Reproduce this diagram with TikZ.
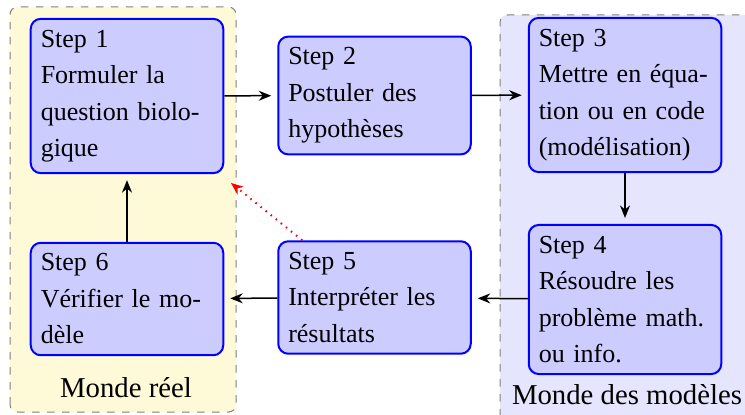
\documentclass[tikz,border=0pt]{standalone}
\usepackage{fontspec}
\setmainfont{Liberation Serif}
\usetikzlibrary{arrows.meta}

\begin{document}
\begin{tikzpicture}[x=0.4pt,y=0.4pt,
    stepnode/.style={draw=blue, line width=0.8pt, fill=stepcolor, rounded corners=4pt,
      text width=69pt, align=left, inner xsep=4pt, inner ysep=4.4pt,
      font=\fontsize{10.4}{14.6}\selectfont},
    flow/.style={-{Stealth[length=5pt,width=4pt]}, semithick, shorten >=2.4pt},
    worldlabel/.style={font=\fontsize{11.5}{14}\selectfont}]
    % Define colors
    \definecolor{realcolor}{RGB}{254,249,215}   % light yellow
    \definecolor{modelcolor}{RGB}{229,229,253}  % light lavender
    \definecolor{stepcolor}{RGB}{204,204,255}   % node fill

    \useasboundingbox (0,0) rectangle (745,414);

    % Draw background
    \filldraw[fill=realcolor, draw=gray, dashed, rounded corners=3pt] (10,2) rectangle (236,407);
    \filldraw[fill=modelcolor, draw=gray, dashed, rounded corners=3pt] (500,-10) rectangle (760,399);

    % Steps
    \node[stepnode] (n1) at (127,318) {Step 1\\Formuler la\\question biolo-\\gique};
    \node[stepnode] (n2) at (374.5,318.5) {Step 2\\Postuler des\\hypothèses};
    \node[stepnode] (n3) at (625,319) {Step 3\\Mettre en équa-\\tion ou en code\\(modélisation)};
    \node[stepnode] (n4) at (625,114.5) {Step 4\\Résoudre les\\problème math.\\ou info.};
    \node[stepnode] (n5) at (374.5,116.5) {Step 5\\Interpréter les\\résultats};
    \node[stepnode] (n6) at (127,115) {Step 6\\Vérifier le mo-\\dèle};

    % Label worlds
    \node[worldlabel] (reel) at (126,26) {Monde réel};
    \node[worldlabel] (modeles) at (627,19) {Monde des modèles};

    % Draw arrows
    \draw[flow] (n1) -- (n2);
    \draw[flow] (n2) -- (n3);
    \draw[flow] (n3) -- (n4);
    \draw[flow] (n4) -- (n5);
    \draw[flow] (n5) -- (n6);
    \draw[flow] (n6) -- (n1);
    \draw[flow, red, dotted, thick] ([xshift=10pt]n5.north west) -- ([xshift=0.8pt,yshift=-2pt]n1.south east);
\end{tikzpicture}
\end{document}
